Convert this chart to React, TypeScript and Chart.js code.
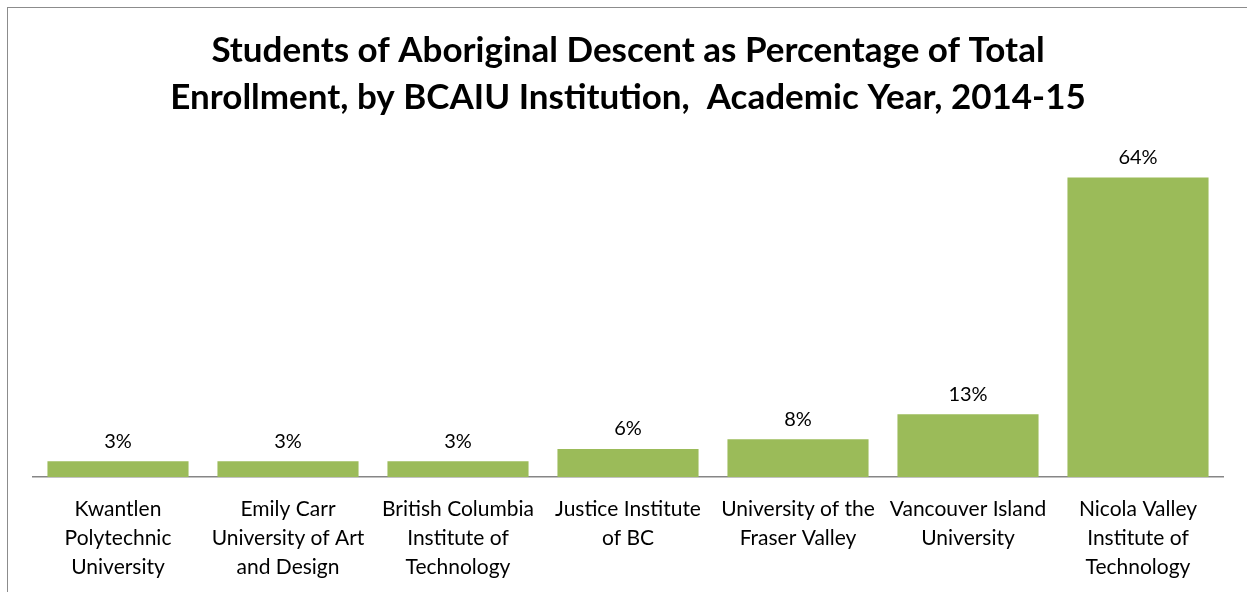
import React, { useEffect, useRef } from "react";
import { Chart, registerables } from "chart.js";

Chart.register(...registerables);

const categories: string[][] = [
  ["Kwantlen", "Polytechnic", "University"],
  ["Emily Carr", "University of Art", "and Design"],
  ["British Columbia", "Institute of", "Technology"],
  ["Justice Institute", "of BC"],
  ["University of the", "Fraser Valley"],
  ["Vancouver Island", "University"],
  ["Nicola Valley", "Institute of", "Technology"],
];

const percentages: number[] = [3.4, 3.4, 3.4, 6.0, 8.1, 13.4, 64.0];

const titleLines: string[] = [
  "Students of Aboriginal Descent as Percentage of Total",
  "Enrollment, by BCAIU Institution,  Academic Year, 2014-15",
];

const FONT = "Lato, 'Open Sans', sans-serif";

const framePlugin = {
  id: "frame",
  beforeDraw(chart: any) {
    const ctx = chart.ctx;
    ctx.save();
    ctx.strokeStyle = "#8c8c8c";
    ctx.lineWidth = 1;
    ctx.strokeRect(7.5, 7.5, 1400, 800);
    ctx.restore();
  },
};

const labelPlugin = {
  id: "valueLabels",
  afterDatasetsDraw(chart: any) {
    const ctx = chart.ctx;
    const meta = chart.getDatasetMeta(0);
    ctx.save();
    ctx.font = `20px ${FONT}`;
    ctx.fillStyle = "#000";
    ctx.textAlign = "center";
    ctx.textBaseline = "middle";
    meta.data.forEach((bar: any, i: number) => {
      const v = chart.data.datasets[0].data[i] as number;
      ctx.fillText(Math.round(v) + "%", bar.x, bar.y - 20);
    });
    ctx.restore();
  },
};

export default function App() {
  const ref = useRef<HTMLCanvasElement | null>(null);
  useEffect(() => {
    document.body.style.margin = "0";
    document.body.style.overflow = "hidden";
    const chart = new Chart(ref.current!, {
      type: "bar",
      data: {
        labels: categories,
        datasets: [
          {
            data: percentages,
            backgroundColor: "#9BBB59",
            barPercentage: 0.83,
            categoryPercentage: 1,
          },
        ],
      },
      options: {
        animation: false,
        responsive: false,
        layout: { padding: { left: 33, right: 24, top: 0, bottom: 8 } },
        plugins: {
          legend: { display: false },
          tooltip: { enabled: false },
          title: {
            display: true,
            text: titleLines,
            color: "#000",
            font: { family: FONT, size: 35, weight: "bold", lineHeight: 1.35 },
            padding: { top: 27, bottom: 28 },
          },
        },
        scales: {
          y: { display: false, min: 0, max: 70 },
          x: {
            grid: { display: false, drawTicks: false },
            border: { display: true, color: "#868686", width: 1.5 },
            ticks: {
              color: "#000",
              font: { family: FONT, size: 21, lineHeight: 1.38 },
              padding: 18,
              maxRotation: 0,
              autoSkip: false,
            },
          },
        },
      },
      plugins: [framePlugin, labelPlugin],
    });
    return () => chart.destroy();
  }, []);
  return <canvas ref={ref} width={1247} height={608} style={{ display: "block" }} />;
}
